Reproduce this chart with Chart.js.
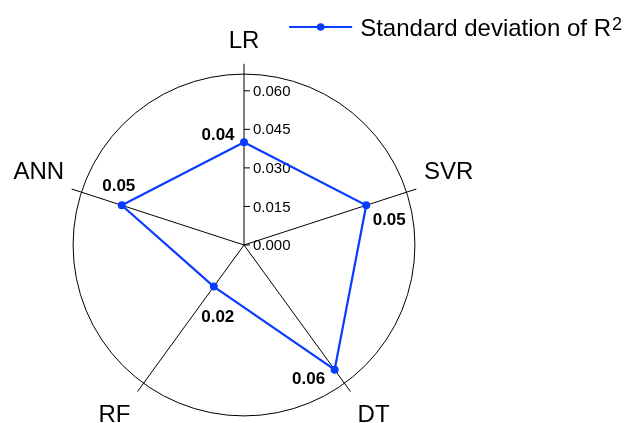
<!DOCTYPE html>
<html>
<head>
<meta charset="utf-8">
<script src="https://cdn.jsdelivr.net/npm/chart.js"></script>
<style>
html, body { margin: 0; padding: 0; background: #fff; overflow: hidden; }
#wrap { position: relative; width: 632px; height: 445px; }
</style>
</head>
<body>
<div id="wrap"><canvas id="c"></canvas></div>
<script>
// Spread of R² across the five regression models
const models = ['LR', 'SVR', 'DT', 'RF', 'ANN'];
const sdR2 = [0.04, 0.05, 0.06, 0.02, 0.05];
const tickValues = [0, 0.015, 0.030, 0.045, 0.060];
const rimValue = 0.0665;   // outer circle
const axisMax = 0.0705;    // spokes run a little past the circle
const seriesLabel = 'Standard deviation of R²';

// where each value tag sits relative to its point (dx, dy)
const tagOffsets = [[-26, -7], [23, 15], [-26, 10], [4, 31], [-3, -19]];
// gap between spoke end and category name
const labelGaps = [8, 8, 12, 12, 8];

const FONT = "'Liberation Sans', Arial, Helvetica, sans-serif";
const BLUE = '#0a3cff';

// tick marks and tick labels along the first spoke
const spokeTicks = {
  id: 'spokeTicks',
  beforeDatasetsDraw(chart) {
    const s = chart.scales.r;
    const ctx = chart.ctx;
    ctx.save();
    ctx.strokeStyle = '#000';
    ctx.lineWidth = 1;
    ctx.fillStyle = '#000';
    ctx.font = '15px ' + FONT;
    ctx.textAlign = 'left';
    ctx.textBaseline = 'middle';
    tickValues.forEach(v => {
      const p = s.getPointPositionForValue(0, v);
      ctx.beginPath();
      ctx.moveTo(p.x, p.y);
      ctx.lineTo(p.x + 6, p.y);
      ctx.stroke();
      ctx.fillText(v.toFixed(3), p.x + 9, p.y + 1);
    });
    ctx.restore();
  }
};

// bold value tags next to every point
const valueTags = {
  id: 'valueTags',
  afterDatasetsDraw(chart) {
    const meta = chart.getDatasetMeta(0);
    const ctx = chart.ctx;
    ctx.save();
    ctx.font = 'bold 17px ' + FONT;
    ctx.fillStyle = '#000';
    ctx.textAlign = 'center';
    ctx.textBaseline = 'middle';
    meta.data.forEach((pt, i) => {
      const [dx, dy] = tagOffsets[i];
      ctx.fillText(sdR2[i].toFixed(2), pt.x + dx, pt.y + dy);
    });
    ctx.restore();
  }
};

// series key in the top-right corner: line with a dot, then the name with a superscript
const seriesKey = {
  id: 'seriesKey',
  afterDraw(chart) {
    const ds = chart.data.datasets[0];
    const ctx = chart.ctx;
    const sup = ds.label.endsWith('²');
    const base = sup ? ds.label.slice(0, -1) : ds.label;
    ctx.save();
    ctx.font = '24px ' + FONT;
    const wBase = ctx.measureText(base).width;
    ctx.font = '18px ' + FONT;
    const wSup = sup ? ctx.measureText('2').width + 1 : 0;
    const right = chart.width - 10;
    const tx = right - wBase - wSup;
    const ly = 27;
    const x1 = tx - 8, x0 = x1 - 63;

    ctx.strokeStyle = ds.borderColor;
    ctx.lineWidth = ds.borderWidth;
    ctx.beginPath();
    ctx.moveTo(x0, ly);
    ctx.lineTo(x1, ly);
    ctx.stroke();
    ctx.fillStyle = ds.borderColor;
    ctx.beginPath();
    ctx.arc((x0 + x1) / 2, ly, 3.8, 0, Math.PI * 2);
    ctx.fill();

    ctx.fillStyle = '#000';
    ctx.textAlign = 'left';
    ctx.textBaseline = 'alphabetic';
    ctx.font = '24px ' + FONT;
    ctx.fillText(base, tx, 36);
    if (sup) {
      ctx.font = '18px ' + FONT;
      ctx.fillText('2', tx + wBase + 1, 30);
    }
    ctx.restore();
  }
};

new Chart(document.getElementById('c'), {
  type: 'radar',
  data: {
    labels: models,
    datasets: [{
      label: seriesLabel,
      data: sdR2,
      borderColor: BLUE,
      backgroundColor: BLUE,
      pointBackgroundColor: BLUE,
      pointBorderWidth: 0,
      pointRadius: 4,
      borderWidth: 2.2,
      fill: false,
      tension: 0
    }]
  },
  options: {
    responsive: true,
    maintainAspectRatio: false,
    animation: false,
    layout: { padding: { top: 9, right: 144, bottom: 0, left: 0 } },
    plugins: {
      legend: { display: false },
      tooltip: { enabled: false }
    },
    scales: {
      r: {
        min: 0,
        max: axisMax,
        afterBuildTicks: (s) => {
          s.ticks = tickValues.concat([rimValue]).map(v => ({ value: v }));
        },
        ticks: { display: false },
        grid: {
          circular: true,
          lineWidth: 1,
          color: (c) => (c.tick && c.tick.value === rimValue) ? '#000' : 'rgba(0,0,0,0)'
        },
        angleLines: { color: '#000', lineWidth: 1 },
        pointLabels: {
          color: '#000',
          padding: (c) => labelGaps[c.index],
          font: { family: FONT, size: 24 }
        }
      }
    }
  },
  plugins: [spokeTicks, valueTags, seriesKey]
});
</script>
</body>
</html>
